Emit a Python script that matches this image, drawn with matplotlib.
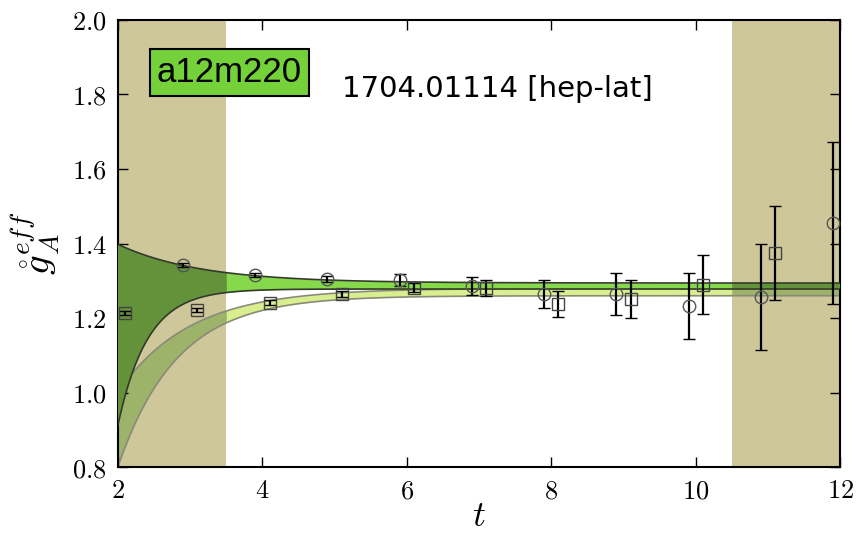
import matplotlib
matplotlib.use("Agg")
import matplotlib.pyplot as plt
import numpy as np
from matplotlib.ticker import FuncFormatter

plt.rcParams['mathtext.fontset'] = 'cm'

# open circles (source-sink separation set 1), shifted left by 0.1
t_circ = [2.9, 3.9, 4.9, 5.9, 6.9, 7.9, 8.9, 9.9, 10.9, 11.9]
g_circ = [1.342, 1.316, 1.305, 1.302, 1.286, 1.265, 1.265, 1.233, 1.257, 1.455]
e_circ = [0.005, 0.005, 0.008, 0.017, 0.024, 0.037, 0.056, 0.088, 0.142, 0.218]

# open squares, shifted right by 0.1
t_sq = [2.1, 3.1, 4.1, 5.1, 6.1, 7.1, 8.1, 9.1, 10.1, 11.1]
g_sq = [1.214, 1.221, 1.241, 1.265, 1.281, 1.281, 1.238, 1.251, 1.289, 1.374]
e_sq = [0.005, 0.006, 0.007, 0.008, 0.012, 0.021, 0.035, 0.051, 0.079, 0.126]

# fit band edges: edge(t) = plateau + amp * exp(-rate * (t - 2))
band_a_upper = [1.294, 0.104, 0.877]
band_a_lower = [1.278, -0.366, 2.43]
band_b_upper = [1.280, -0.280, 1.015]
band_b_lower = [1.260, -0.460, 1.227]

excluded = [(2.0, 3.5), (10.5, 12.0)]


def edge(t, p):
    return p[0] + p[1] * np.exp(-p[2] * (t - 2))


fig = plt.figure(figsize=(8.6, 5.37), dpi=100)
ax = fig.add_axes([0.137, 0.130, 0.840, 0.833])

for lo, hi in excluded:
    ax.axvspan(lo, hi, color='#cec799', zorder=0, lw=0)

t = np.linspace(2, 12, 800)
inside = (t >= 3.5) & (t <= 10.5)
outside = ~inside | (np.abs(t - 3.5) < 0.02) | (np.abs(t - 10.5) < 0.02)

bu, bl = edge(t, band_b_upper), edge(t, band_b_lower)
ax.fill_between(t, bl, bu, where=outside, color='#9db36a', lw=0, zorder=1)
ax.fill_between(t, bl, bu, where=inside, color='#d9ef8f', lw=0, zorder=1)
ax.plot(t, bu, color='#8a8a7a', lw=1.2, zorder=2)
ax.plot(t, bl, color='#8a8a7a', lw=1.2, zorder=2)

au, al = edge(t, band_a_upper), edge(t, band_a_lower)
ax.fill_between(t, al, au, where=outside, color='#64923a', lw=0, zorder=3)
ax.fill_between(t, al, au, where=inside, color='#86d94a', lw=0, zorder=3)
ax.plot(t, au, color='#333a2a', lw=1.2, zorder=4)
ax.plot(t, al, color='#333a2a', lw=1.2, zorder=4)

ax.errorbar(t_circ, g_circ, yerr=e_circ, fmt='o', mfc='none', mec='#555555',
            mew=1.0, ms=9, ecolor='black', elinewidth=1.6, capsize=4.5,
            capthick=1.4, zorder=5)
ax.errorbar(t_sq, g_sq, yerr=e_sq, fmt='s', mfc='none', mec='#444444',
            mew=1.0, ms=9, ecolor='black', elinewidth=1.6, capsize=4.5,
            capthick=1.4, zorder=5)

ax.set_xlim(2, 12)
ax.set_ylim(0.8, 2.0)
ax.set_xticks([2, 4, 6, 8, 10, 12])
ax.set_yticks(np.arange(0.8, 2.01, 0.2))
ax.xaxis.set_major_formatter(FuncFormatter(lambda v, p: f'${v:g}$'))
ax.yaxis.set_major_formatter(FuncFormatter(lambda v, p: f'${v:.1f}$'))
ax.tick_params(direction='in', top=True, right=True, length=7, width=1,
               labelsize=19, pad=8)
for s in ax.spines.values():
    s.set_linewidth(1.5)

ax.set_xlabel(r'$t$', fontsize=26, labelpad=-4)
ax.set_ylabel(r'$\mathring{g}_A^{eff}$', fontsize=28, labelpad=6)

ax.text(3.54, 1.86, 'a12m220', family='Liberation Sans', fontsize=25,
        ha='center', va='center', zorder=6,
        bbox=dict(boxstyle='square,pad=0.2', fc='#74d13a', ec='black', lw=1.5))
ax.text(5.11, 1.815, '1704.01114 [hep-lat]', family='DejaVu Sans',
        fontsize=21, ha='left', va='center', zorder=6)

fig.savefig('out.png', dpi=100)
